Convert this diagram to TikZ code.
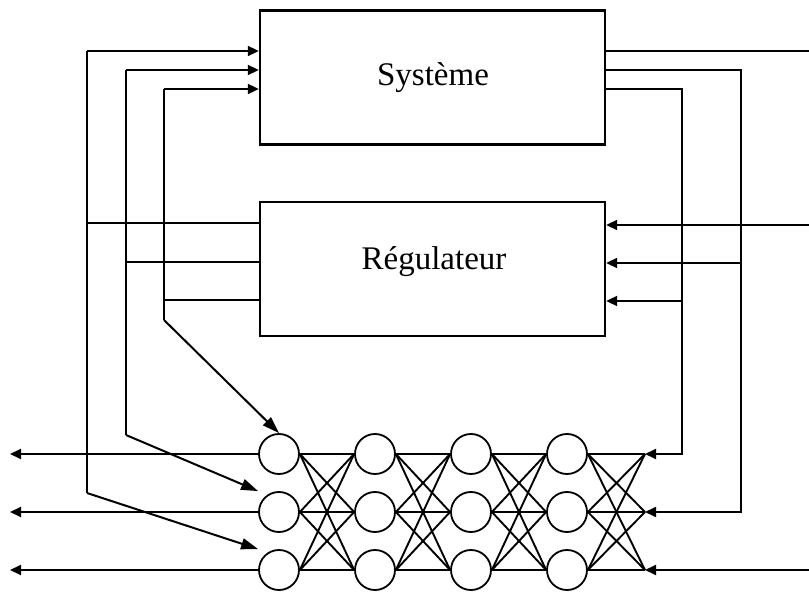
\documentclass[tikz,border=0pt]{standalone}
\usepackage{fontspec}
\setmainfont{Liberation Serif}
\usetikzlibrary{arrows.meta,calc}
\begin{document}
\begin{tikzpicture}[x=1pt,y=-1pt,
  box/.style={draw,line width=2.4pt,minimum width=345pt,minimum height=134pt,inner sep=0pt},
  lbl/.style={font=\fontsize{33}{40}\selectfont,anchor=base,inner sep=0pt},
  wire/.style={line width=2pt},
  arr/.style={wire,-{Triangle[length=11pt,width=10pt]}},
  darr/.style={wire,-{Triangle[length=17pt,width=11pt]}},
  neuron/.style={draw,circle,line width=1.8pt,minimum size=40pt,inner sep=0pt},
  link/.style={line width=1.9pt}]
\useasboundingbox (0,0) rectangle (809,593);

% the two blocks
\node[box] (sys) at (432.5,77.5) {};
\node[box] (reg) at (432.5,269) {};
\node[lbl] (systxt) at (433,86) {Système};
\node[lbl] (regtxt) at (434,270) {Régulateur};

% neural network: four layers of three neurons
\foreach \c in {1,2,3,4} {
  \foreach \r in {1,2,3} {
    \node[neuron] (n\c-\r) at ({279+96*(\c-1)},{454+58*(\r-1)}) {};
  }
}
\foreach \c in {1,2,3} {
  \pgfmathtruncatemacro{\d}{\c+1}
  \foreach \i in {1,2,3} {
    \foreach \j in {1,2,3} {
      \draw[link] (n\c-\i.east) -- (n\d-\j.west);
    }
  }
}
% output points of the network
\coordinate (o1) at (645,454);
\coordinate (o2) at (645,512);
\coordinate (o3) at (645,570);
\foreach \i in {1,2,3} {
  \foreach \j in {1,2,3} {
    \draw[link] (n4-\i.east) -- (o\j);
  }
}

% left buses
\coordinate (a0) at (87,51);
\coordinate (a1) at (87,493);
\coordinate (b0) at (126,70);
\coordinate (b1) at (126,435);
\coordinate (c0) at (164,89);
\coordinate (c1) at (164,320);
\coordinate (ry1) at (87,223);
\coordinate (ry2) at (126,262);
\coordinate (ry3) at (164,300);

\draw[wire] (a0) -- (a1);
\draw[wire] (b0) -- (b1);
\draw[wire] (c0) -- (c1);
\draw[arr] (a0) -- (sys.west |- a0);
\draw[arr] (b0) -- (sys.west |- b0);
\draw[arr] (c0) -- (sys.west |- c0);
\draw[wire] (reg.west |- ry1) -- (ry1);
\draw[wire] (reg.west |- ry2) -- (ry2);
\draw[wire] (reg.west |- ry3) -- (ry3);
\draw[darr] (a1) -- (n1-3.west |- n1-3.north);
\draw[darr] (b1) -- (n1-2.west |- n1-2.north);
\draw[darr] (c1) -- (n1-1.north);

% network outputs to the left
\foreach \i/\y in {1/454,2/512,3/570} {
  \coordinate (l\i) at (10,\y);
  \draw[arr] (n1-\i.west) -- (l\i);
}

% right buses
\coordinate (sy1) at (809,51);
\coordinate (sy2) at (741,70);
\coordinate (sy3) at (682,89);
\coordinate (e1) at (809,225);
\coordinate (e2) at (741,263);
\coordinate (e3) at (682,301);
\coordinate (f3) at (809,570);

\draw[wire] (sys.east |- sy1) -- (sy1);
\draw[arr] (sys.east |- sy2) -- (sy2) -- (sy2 |- o2) -- (o2);
\draw[arr] (sys.east |- sy3) -- (sy3) -- (sy3 |- o1) -- (o1);
\draw[arr] (e1) -- (reg.east |- e1);
\draw[arr] (e2) -- (reg.east |- e2);
\draw[arr] (e3) -- (reg.east |- e3);
\draw[arr] (f3) -- (o3);
\end{tikzpicture}
\end{document}
